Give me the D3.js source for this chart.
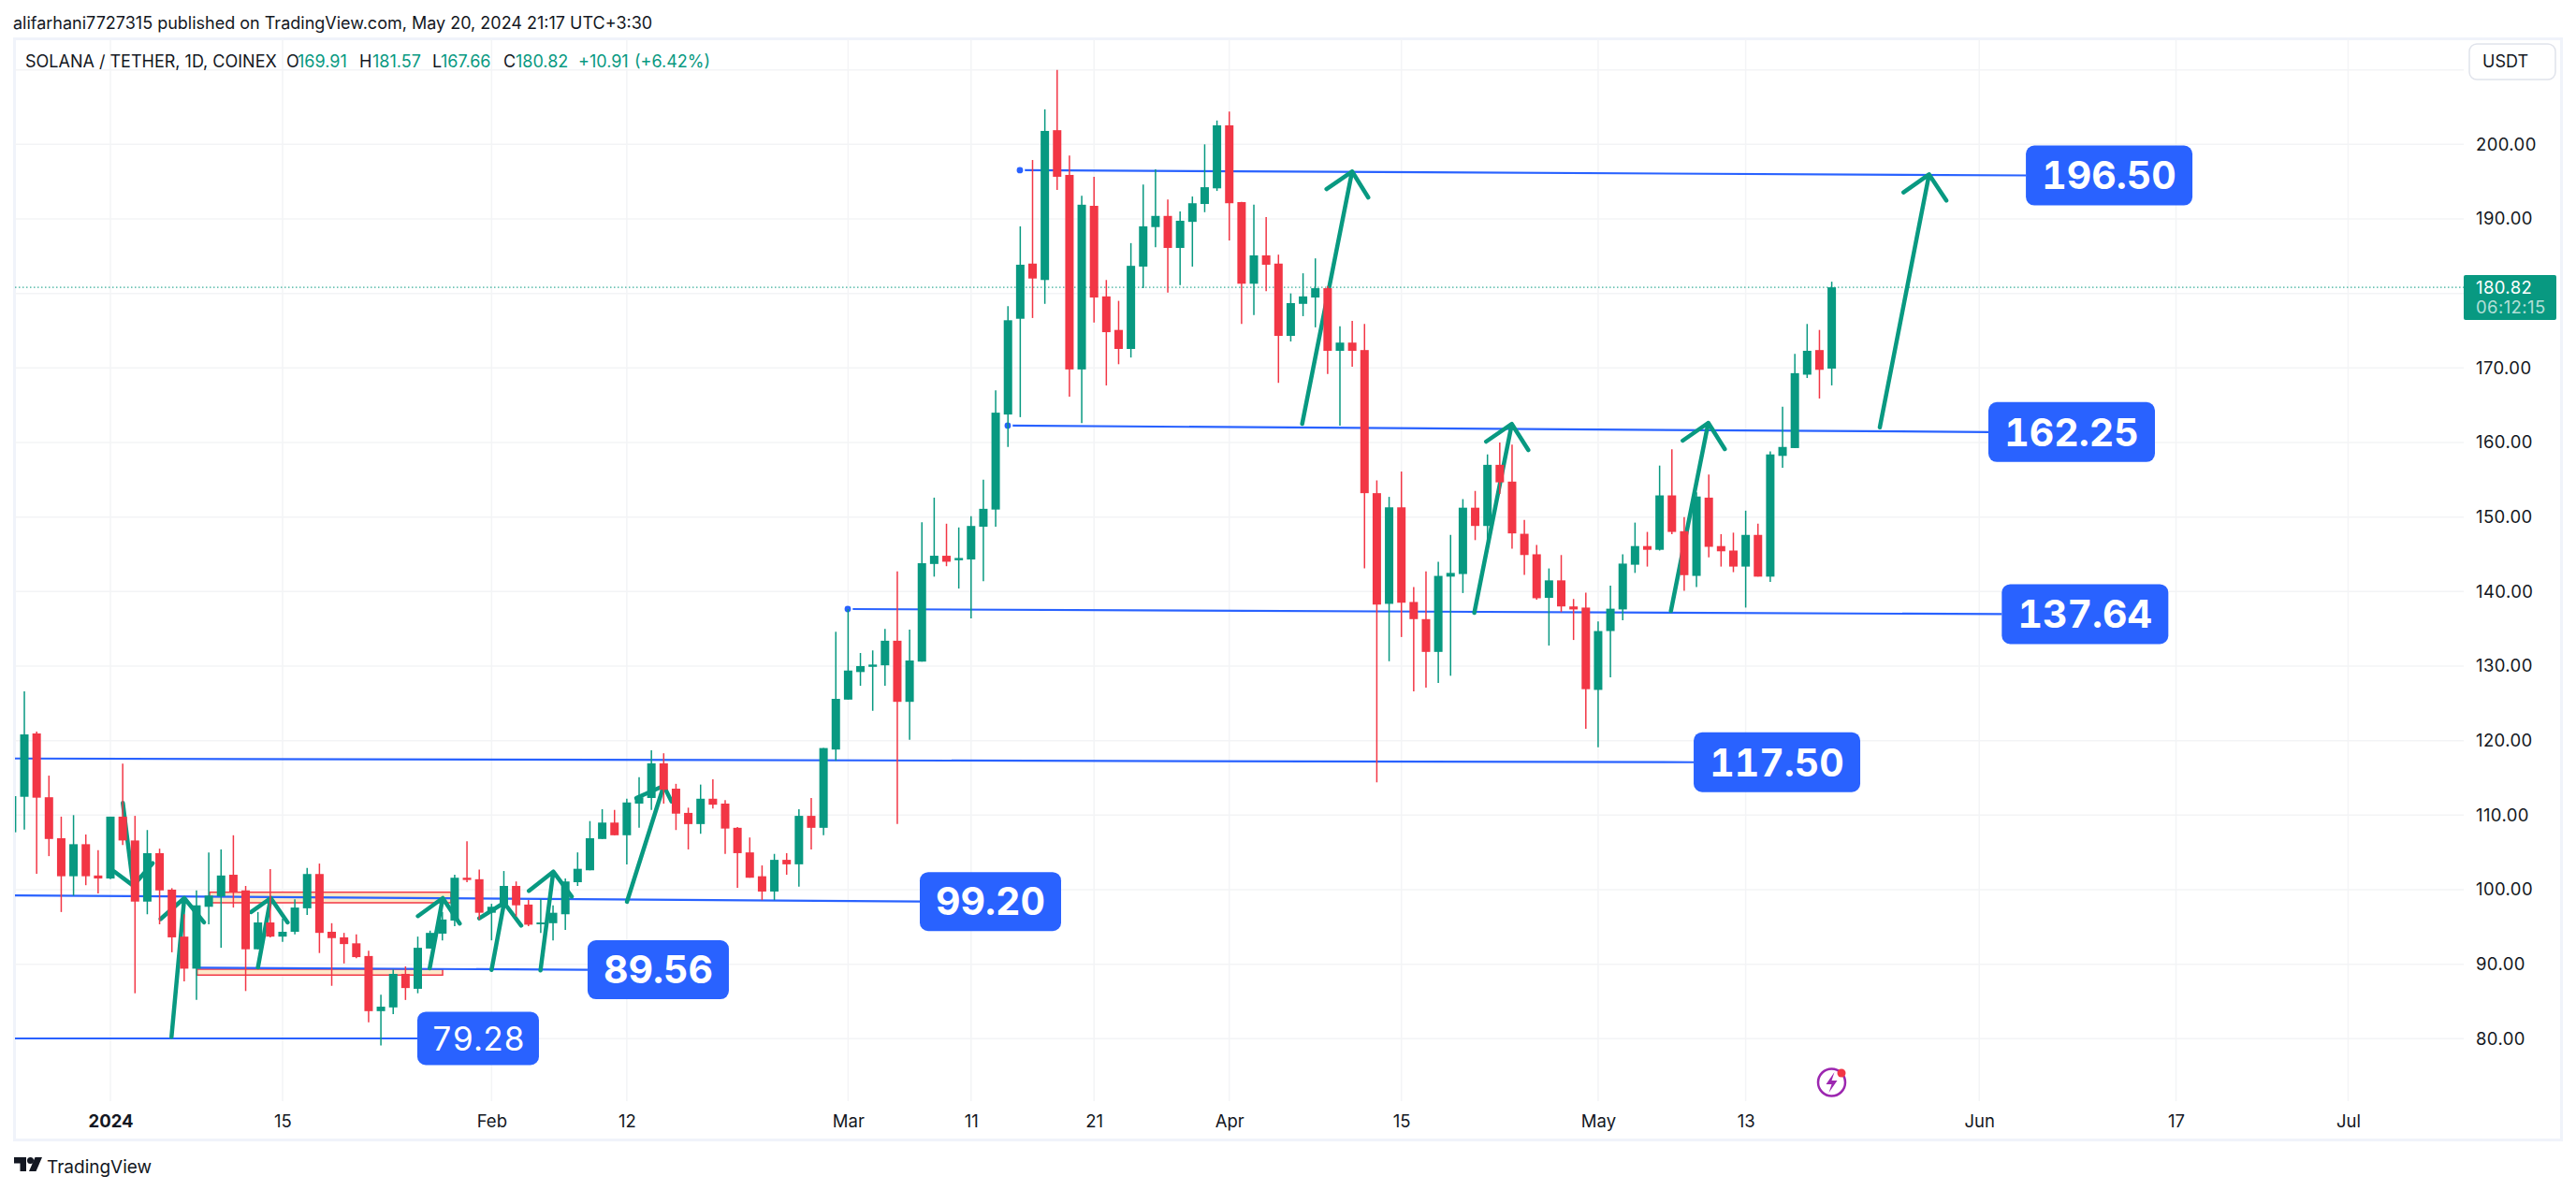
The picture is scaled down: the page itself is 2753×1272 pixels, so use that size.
<!DOCTYPE html>
<html>
<head>
<meta charset="utf-8">
<script src="https://cdn.jsdelivr.net/npm/d3@7"></script>
<style>
html, body { margin: 0; background: #fff; }
text { font-family: Inter, "Noto Sans", sans-serif; }
.tnum { font-feature-settings: "tnum"; font-variant-numeric: tabular-nums; }
</style>
</head>
<body>
<svg id="chart" width="2753" height="1272"></svg>
<script>
// daily candles, first one is Dec 24 2023 (day -8), day 0 = Jan 1 2024
var firstDay = -8;

var opens = [107.7, 112.46, 120.96, 112.4, 106.9, 101.8, 106.1, 101.9,
    101.5, 109.8, 106.6, 98.4, 104.9, 100, 93.7, 89.4, 97.7, 99.1,
    102, 99.9, 92, 95.6, 93.7, 94.35, 97.5, 102.1, 94.35, 93.6,
    92.8, 91.1, 83.7, 84.2, 88.7, 86.7, 92.1, 94.1, 95.85, 101.6,
    101.4, 96.9, 98, 100.5, 98, 95.35, 95.5, 96.7, 101, 102.6,
    106.8, 109, 107.3, 111.55, 112.3, 116.95, 113.55, 110.3, 108.8, 112.2,
    111.55, 108.3, 105, 101.8, 99.75, 104, 103.4, 109.9, 108.3, 118.8,
    125.5, 129.2, 129.9, 130.1, 133.4, 125.2, 130.6, 143.7, 144.8, 144.2,
    144.3, 148.7, 151, 163.75, 176.6, 184, 181.8, 201.9, 195.9, 169.8,
    191.75, 179.6, 175.1, 172.55, 183.6, 188.9, 190.4, 186.1, 189.6, 192,
    194.1, 202.55, 192.25, 181.3, 185.1, 184, 174.3, 178.6, 179.45, 180.7,
    172.3, 173.4, 172.4, 153.2, 138.35, 151.3, 138.6, 136.3, 131.9, 142,
    142.35, 151.25, 148.8, 157, 154.75, 147.75, 145, 139.15, 141.5, 138,
    137.85, 126.8, 134.7, 137.6, 143.6, 146.1, 145.6, 152.9, 148.1, 142.1,
    152.6, 146.1, 145.5, 143.35, 147.6, 142, 158.2, 159.25, 169.1, 172.4,
    169.91];

var closes = [112.55, 120.83, 112.34, 106.8, 101.8, 106.1, 101.8, 101.5,
    109.8, 106.6, 98.4, 104.9, 99.9, 93.6, 89.4, 97.9, 99.2, 101.9,
    99.7, 92, 95.6, 93.7, 94.35, 97.6, 102.1, 94.2, 93.5, 92.7,
    90.95, 83.7, 84.3, 88.7, 86.8, 92.2, 94.2, 96, 101.6, 101.3,
    96.9, 97.7, 100.5, 97.9, 95.3, 95.6, 96.9, 101.1, 102.8, 106.9,
    109, 107.3, 111.7, 112.4, 116.95, 113.4, 110.2, 108.8, 112.2, 111.4,
    108.2, 104.9, 101.6, 99.75, 104, 103.4, 109.9, 108.3, 119, 125.6,
    129.4, 130, 130.2, 133.4, 125.2, 130.75, 143.8, 144.8, 144, 144.5,
    148.8, 151.1, 164, 176.4, 183.85, 182, 201.8, 195.65, 169.8, 191.9,
    179.45, 174.8, 172.55, 183.7, 189, 190.4, 186.1, 189.75, 192.1, 194.25,
    202.55, 192.1, 181.3, 185.1, 183.85, 174.3, 178.7, 179.6, 180.7, 172.3,
    173.4, 172.3, 153.2, 138.25, 151.3, 138.5, 136.3, 131.9, 142.1, 142.5,
    151.25, 148.8, 157, 154.65, 147.8, 144.9, 139.1, 141.5, 138, 137.6,
    126.9, 134.7, 137.7, 143.75, 146.1, 145.6, 152.9, 148, 142.2, 152.75,
    146, 145.4, 143.35, 147.6, 142, 158.4, 159.4, 169.3, 172.3, 169.75,
    180.82];

var highs = [113, 126.6, 121.2, 115.3, 109.8, 110, 107.4, 105.3,
    109.8, 116.9, 109.9, 108, 105.5, 100.2, 96.7, 99.9, 105, 105.4,
    107.3, 100.5, 97, 102.75, 96.1, 98.7, 102.9, 103.5, 95.5, 94.2,
    94, 91.8, 85.9, 89.3, 89.7, 93.7, 94.5, 97, 102, 106.5,
    102.7, 98.1, 102.5, 101.1, 98.6, 98.75, 97.9, 101.5, 105, 109.2,
    110.8, 110.7, 112.2, 115.1, 118.7, 118.3, 114.2, 111, 114.1, 114.8,
    112, 108.4, 107, 103.25, 104.8, 104.9, 110.8, 112.3, 119, 134.6,
    137.65, 131.75, 132.1, 135, 142.7, 134.9, 149.3, 152.6, 149.1, 148.6,
    150.1, 155, 167, 178.3, 189, 197.9, 204.7, 210, 198.5, 193.1,
    195.65, 181.8, 179, 186.75, 194.6, 196.65, 192.6, 191, 193, 200,
    203.2, 204.4, 192.3, 191.9, 190.25, 185.2, 180, 182.7, 184.7, 181,
    175.6, 176.3, 175.9, 154.9, 152.7, 156.1, 140.6, 142.7, 144, 147.6,
    152.4, 153.5, 158.4, 160, 159.7, 149.6, 146.25, 143.1, 144.9, 139,
    139.85, 136, 140.8, 145, 149.25, 148, 156.9, 159.1, 150, 153.3,
    155.7, 147.7, 147.9, 150.85, 149.1, 158.8, 164.8, 171.9, 175.9, 175.1,
    181.57];

var lows = [107, 108.07, 102.13, 104.5, 97, 99.2, 100.6, 99.5,
    101.4, 106, 86.1, 96.7, 95.35, 91.6, 87.7, 85.2, 95.35, 92.2,
    97.6, 86.4, 92, 93.6, 93, 94, 96.6, 91.5, 87.1, 90.1,
    90.8, 82.2, 79.1, 83.3, 85.2, 86.1, 92.1, 93.2, 95.1, 101,
    96, 93.2, 97.7, 96.4, 95.1, 94.2, 93.2, 94.6, 100.5, 102.6,
    106.8, 107.3, 103.4, 108.3, 110.7, 111.55, 108, 105.4, 107.5, 110.9,
    104.8, 100.25, 101.6, 98.6, 98.6, 102, 100.4, 105.4, 107.3, 117.3,
    125.5, 127.35, 124, 127.35, 108.8, 120.1, 130.6, 142, 143.4, 140.4,
    136.4, 141.4, 148.7, 159.4, 163.4, 176.7, 178.6, 193.9, 166.15, 162.6,
    176.1, 167.65, 170.5, 171.4, 180.7, 186.2, 180.1, 181.1, 183.6, 190.9,
    193.75, 187.1, 175.9, 177.1, 180.3, 168, 173.55, 176.95, 175.45, 169.2,
    162.25, 170.15, 143.1, 114.4, 130.65, 133.9, 126.6, 127.1, 127.75, 128.7,
    139.8, 146.9, 146.8, 153.1, 145.75, 142.25, 138.9, 132.75, 137.25, 133.5,
    121.6, 119.1, 128.5, 136.15, 142.5, 143.35, 145.5, 147.7, 140.1, 140.6,
    144.6, 143.35, 142.6, 137.85, 142, 141.3, 156.6, 159.25, 168.65, 165.9,
    167.66];

var priceTicks = [80, 90, 100, 110, 120, 130, 140, 150, 160, 170, 180, 190, 200, 210];
// 180.00 sits behind the last price tag and 210 is above the labels
var priceTickLabels = [80, 90, 100, 110, 120, 130, 140, 150, 160, 170, 190, 200];
var dateTickDays = [0, 14, 31, 42, 60, 70, 80, 91, 105, 121, 133, 152, 168, 182];
var dateTickLabels = ["2024", "15", "Feb", "12", "Mar", "11", "21", "Apr", "15", "May", "13", "Jun", "17", "Jul"];

// hand drawn trend lines: start day, start price, end day, end price
var levelNames = ["79.28", "89.56", "99.20", "117.50", "137.64", "162.25", "196.50"];
var levelStarts = [[-7.84, 80.04], [7, 89.53], [-7.84, 99.24], [-7.84, 117.6], [59.97, 137.65], [72.98, 162.26], [73.97, 196.53]];
var levelEnds = [[24.96, 80.04], [38.81, 89.25], [65.83, 98.4], [128.77, 117.1], [153.83, 136.97], [152.74, 161.4], [155.79, 195.83]];

// arrows as day/price pairs: shaft start, tip, left barb, right barb
var arrowStarts = [[1.01, 111.63], [4.97, 80.26], [12, 89.58], [25.97, 89.46], [31, 89.24], [34.98, 89.17], [42.01, 98.37], [96.93, 162.51], [110.93, 137.15], [126.92, 137.4], [143.91, 162.03]];
var arrowTips = [[1.85, 100.54], [6.01, 98.87], [13.04, 98.87], [27.03, 98.87], [32.02, 98.24], [36.02, 102.42], [45, 113.93], [100.99, 196.36], [113.98, 162.48], [129.96, 162.63], [147.92, 195.97]];
var arrowLefts = [[0.33, 102.42], [4.09, 96.07], [11.44, 96.99], [25.01, 96.45], [30, 96.15], [34.04, 99.84], [42.77, 112.3], [98.91, 194.01], [111.89, 160.12], [127.88, 160.25], [145.84, 193.55]];
var arrowRights = [[3.44, 103.55], [7.61, 95.61], [14.41, 95.61], [28.41, 95.45], [33.41, 95.19], [37.52, 99.08], [45.64, 111.84], [102.3, 192.88], [115.32, 158.99], [131.3, 159.12], [149.32, 192.47]];

// the two beige zones: from day, to day, top price, bottom price
var zoneDays = [[8.07, 27.7], [7.05, 27.02]];
var zonePrices = [[99.66, 98.24], [89.33, 88.54]];

var lastPrice = 180.82;
var green = "#089981", red = "#f23645", blue = "#2962ff", textColor = "#131722", gridColor = "#f3f4f6", frameColor = "#f0f3fa";

var plot = { left: 16, right: 2633, top: 42, bottom: 1177 };

var x = d3.scaleLinear().domain([0, 140]).range([118, 1957.6]);
var y = d3.scaleLinear().domain([200, 80]).range([154.3, 1110.3]);

var svg = d3.select("#chart");

svg.append("defs").append("clipPath").attr("id", "plotClip").append("rect")
    .attr("x", plot.left).attr("y", plot.top)
    .attr("width", plot.right - plot.left).attr("height", plot.bottom - plot.top);

// outer frame
svg.append("rect")
    .attr("x", 15.5).attr("y", 41.5).attr("width", 2722).attr("height", 1177)
    .attr("fill", "none").attr("stroke", frameColor).attr("stroke-width", 3);

// top line
svg.append("text").attr("x", 14).attr("y", 30.5)
    .attr("font-size", 18).attr("fill", textColor)
    .text("alifarhani7727315 published on TradingView.com, May 20, 2024 21:17 UTC+3:30");

// grid
svg.append("g").selectAll("line").data(priceTicks).join("line")
    .attr("x1", plot.left).attr("x2", plot.right)
    .attr("y1", d => y(d)).attr("y2", d => y(d))
    .attr("stroke", gridColor).attr("stroke-width", 1.5);

svg.append("g").selectAll("line").data(dateTickDays).join("line")
    .attr("x1", d => x(d)).attr("x2", d => x(d))
    .attr("y1", plot.top).attr("y2", plot.bottom)
    .attr("stroke", gridColor).attr("stroke-width", 1.5);

// axes
var priceAxis = d3.axisRight(y).tickValues(priceTickLabels).tickSize(0).tickPadding(0).tickFormat(d3.format(".2f"));
var yAxisG = svg.append("g").attr("transform", "translate(2646,0)").call(priceAxis);
yAxisG.select(".domain").remove();
yAxisG.selectAll("text").attr("font-size", 18.5).attr("fill", textColor).attr("letter-spacing", 0.4)
    .attr("font-family", "Inter");

var timeAxis = d3.axisBottom(x).tickValues(dateTickDays).tickSize(0).tickPadding(0)
    .tickFormat((d, i) => dateTickLabels[i]);
var xAxisG = svg.append("g").attr("transform", "translate(0,1192)").call(timeAxis);
xAxisG.select(".domain").remove();
xAxisG.selectAll("text").attr("font-size", 18.5).attr("fill", textColor).attr("font-family", "Inter")
    .attr("font-weight", (d, i) => i == 0 ? 700 : 400);

var chartG = svg.append("g").attr("clip-path", "url(#plotClip)");

// last price dotted line
chartG.append("line")
    .attr("x1", plot.left).attr("x2", plot.right)
    .attr("y1", y(lastPrice)).attr("y2", y(lastPrice))
    .attr("stroke", green).attr("stroke-width", 1).attr("stroke-dasharray", "1.5,2.5");

// zones
chartG.selectAll(".zone").data(zoneDays).join("rect")
    .attr("class", "zone")
    .attr("x", d => x(d[0]))
    .attr("width", d => x(d[1]) - x(d[0]))
    .attr("y", (d, i) => y(zonePrices[i][0]))
    .attr("height", (d, i) => y(zonePrices[i][1]) - y(zonePrices[i][0]))
    .attr("fill", "#fde8c8").attr("stroke", red).attr("stroke-width", 1.5);

// trend lines
chartG.selectAll(".level").data(levelStarts).join("line")
    .attr("class", "level")
    .attr("x1", d => x(d[0])).attr("y1", d => y(d[1]))
    .attr("x2", (d, i) => x(levelEnds[i][0])).attr("y2", (d, i) => y(levelEnds[i][1]))
    .attr("stroke", blue).attr("stroke-width", 2.2);

// the three upper ones have a start handle
chartG.selectAll(".handle").data(levelStarts.slice(4)).join("circle")
    .attr("class", "handle")
    .attr("cx", d => x(d[0])).attr("cy", d => y(d[1])).attr("r", 4.4)
    .attr("fill", blue).attr("stroke", "#fff").attr("stroke-width", 2);

// arrows
var arrowLine = d3.line().x(d => x(d[0])).y(d => y(d[1]));
chartG.selectAll(".arrow").data(arrowStarts).join("path")
    .attr("class", "arrow")
    .attr("d", (d, i) => arrowLine([d, arrowTips[i]]) + arrowLine([arrowLefts[i], arrowTips[i], arrowRights[i]]))
    .attr("fill", "none").attr("stroke", green).attr("stroke-width", 4.5)
    .attr("stroke-linecap", "round").attr("stroke-linejoin", "round");

// candles
var candles = opens.map((o, i) => ({ day: firstDay + i, o: o, c: closes[i], h: highs[i], l: lows[i] }));
var candleColor = d => d.c >= d.o ? green : red;

chartG.selectAll(".wick").data(candles).join("line")
    .attr("class", "wick")
    .attr("x1", d => x(d.day)).attr("x2", d => x(d.day))
    .attr("y1", d => y(d.h)).attr("y2", d => y(d.l))
    .attr("stroke", candleColor).attr("stroke-width", 1.5);

chartG.selectAll(".body").data(candles).join("rect")
    .attr("class", "body")
    .attr("x", d => x(d.day) - 4.5).attr("width", 9)
    .attr("y", d => y(Math.max(d.o, d.c)))
    .attr("height", d => Math.max(1.5, Math.abs(y(d.o) - y(d.c))))
    .attr("fill", candleColor);

// level labels
var labelWidths = [130, 151, 151, 178, 178, 178, 178];
var labelHeights = [57, 63, 63, 64, 64, 64, 64];
var labelG = svg.append("g").selectAll("g").data(levelEnds).join("g")
    .attr("transform", d => "translate(" + x(d[0]) + "," + y(d[1]) + ")");

labelG.append("rect")
    .attr("y", (d, i) => -labelHeights[i] / 2)
    .attr("width", (d, i) => labelWidths[i])
    .attr("height", (d, i) => labelHeights[i])
    .attr("rx", 9).attr("fill", blue);

labelG.append("text")
    .attr("class", "tnum")
    .attr("x", (d, i) => labelWidths[i] / 2)
    .attr("dy", "0.36em")
    .attr("text-anchor", "middle")
    .attr("fill", "#fff")
    .attr("font-size", (d, i) => i == 0 ? 35 : 41)
    .attr("font-weight", (d, i) => i == 0 ? 400 : 700)
    .text((d, i) => levelNames[i]);

// legend row
var legendItems = [
    ["SOLANA / TETHER, 1D, COINEX", 27, textColor],
    ["O", 306, textColor], ["169.91", 318, green],
    ["H", 384, textColor], ["181.57", 398, green],
    ["L", 462, textColor], ["167.66", 471, green],
    ["C", 538, textColor], ["180.82", 551, green],
    ["+10.91", 618, green], ["(+6.42%)", 678, green]
];
svg.append("g").selectAll("text").data(legendItems).join("text")
    .attr("x", d => d[1]).attr("y", 71.5)
    .attr("font-size", 18).attr("fill", d => d[2])
    .text(d => d[0]);

// currency button
svg.append("rect")
    .attr("x", 2639).attr("y", 47).attr("width", 92).attr("height", 38).attr("rx", 8)
    .attr("fill", "#fff").attr("stroke", "#e0e3eb").attr("stroke-width", 1.5);
svg.append("text").attr("x", 2653).attr("y", 72)
    .attr("font-size", 18).attr("fill", textColor).text("USDT");

// price tag
svg.append("rect")
    .attr("x", 2633).attr("y", 294).attr("width", 99).attr("height", 48).attr("rx", 2)
    .attr("fill", green);
svg.append("text").attr("x", 2646).attr("y", 314)
    .attr("font-size", 18.5).attr("letter-spacing", 0.4).attr("fill", "#fff").text("180.82");
svg.append("text").attr("x", 2646).attr("y", 335)
    .attr("font-size", 18.5).attr("letter-spacing", 0.4).attr("fill", "#fff").attr("fill-opacity", 0.7).text("06:12:15");

// earnings style icon under the last candle
var iconG = svg.append("g").attr("transform", "translate(1957.5,1157)");
iconG.append("circle").attr("r", 14.5).attr("fill", "none").attr("stroke", "#9c27b0").attr("stroke-width", 2.5);
iconG.append("path").attr("d", "M3 -11 L-6 2 L0 2 L-3 11 L6 -2 L0 -2 Z").attr("fill", "#9c27b0");
iconG.append("circle").attr("cx", 10.5).attr("cy", -10).attr("r", 4.5).attr("fill", red);

// footer logo
var logoG = svg.append("g").attr("transform", "translate(15,1237)").attr("fill", textColor);
logoG.append("path").attr("d", "M0 0 H13 V15 H6.5 V6.5 H0 Z");
logoG.append("circle").attr("cx", 17.5).attr("cy", 3.5).attr("r", 3.5);
logoG.append("path").attr("d", "M22.5 0 H30 L23.5 15 H16 Z");
svg.append("text").attr("x", 50).attr("y", 1254)
    .attr("font-size", 19).attr("fill", textColor).text("TradingView");
</script>
</body>
</html>
